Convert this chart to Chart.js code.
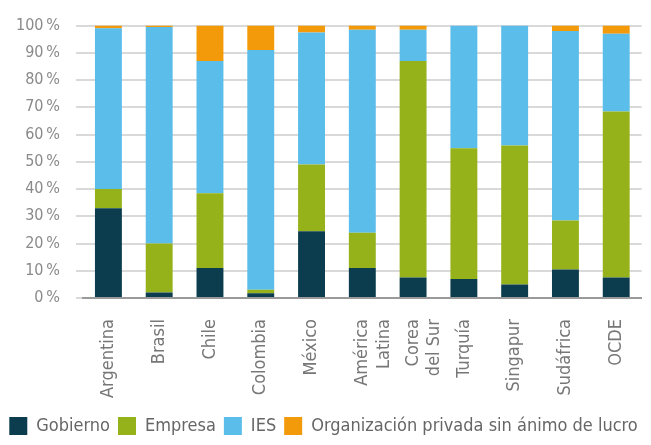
<!DOCTYPE html>
<html>
<head>
<meta charset="utf-8">
<script src="https://cdn.jsdelivr.net/npm/chart.js"></script>
<style>
  html, body { margin: 0; padding: 0; background: #fff; }
  #wrap { width: 651px; height: 445px; }
</style>
</head>
<body>
<div id="wrap"><canvas id="chart"></canvas></div>
<script>
const paises = ['Argentina', 'Brasil', 'Chile', 'Colombia', 'México', ['América', 'Latina'],
  ['Corea', 'del Sur'], 'Turquía', 'Singapur', 'Sudáfrica', 'OCDE'];

// porcentaje del gasto en I+D por sector de ejecución
const gobierno    = [33, 2, 11, 1.8, 24.5, 11, 7.5, 7, 5, 10.5, 7.5];
const empresa     = [7, 18, 27.5, 1.2, 24.5, 13, 79.5, 48, 51, 18, 61];
const ies         = [59, 79.5, 48.5, 88, 48.5, 74.5, 11.5, 45, 44, 69.5, 28.5];
const privadaSinLucro = [1, 0.5, 13, 9, 2.5, 1.5, 1.5, 0, 0, 2, 3];

const fuente = "'Liberation Sans Narrow', 'DejaVu Sans Condensed', 'Liberation Sans', sans-serif";

const serie = (label, data, color) => ({
  label: label,
  data: data,
  backgroundColor: color,
  borderWidth: 0,
  barPercentage: 0.53,
  categoryPercentage: 1.0
});

new Chart(document.getElementById('chart'), {
  type: 'bar',
  data: {
    labels: paises,
    datasets: [
      serie('Gobierno', gobierno, '#0b3d4e'),
      serie('Empresa', empresa, '#95b21a'),
      serie('IES', ies, '#5bbde9'),
      serie('Organización privada sin ánimo de lucro', privadaSinLucro, '#f39a0b')
    ]
  },
  options: {
    responsive: true,
    maintainAspectRatio: false,
    animation: false,
    layout: { padding: { top: 21, right: 4, left: 0, bottom: 0 } },
    plugins: {
      tooltip: { enabled: false },
      legend: {
        position: 'bottom',
        labels: {
          boxWidth: 18,
          boxHeight: 18,
          padding: 8,
          color: '#666',
          font: { family: fuente, size: 18 }
        }
      }
    },
    scales: {
      x: {
        stacked: true,
        grid: { display: false },
        border: { color: '#9a9a9a', width: 2 },
        ticks: {
          color: '#777',
          maxRotation: 90,
          minRotation: 90,
          padding: 13,
          font: { family: fuente, size: 18 }
        },
        // ajuste fino del hueco entre las etiquetas de países y la leyenda
        afterFit: scale => { scale.height -= 2; }
      },
      y: {
        stacked: true,
        min: 0,
        max: 100,
        border: { display: false },
        grid: { color: '#d9d9d9', lineWidth: 2, tickLength: 7 },
        ticks: {
          stepSize: 10,
          padding: 16,
          color: '#8a8a8a',
          font: { family: fuente, size: 16 },
          callback: v => v + '\u202F%'
        }
      }
    }
  }
});
</script>
</body>
</html>
